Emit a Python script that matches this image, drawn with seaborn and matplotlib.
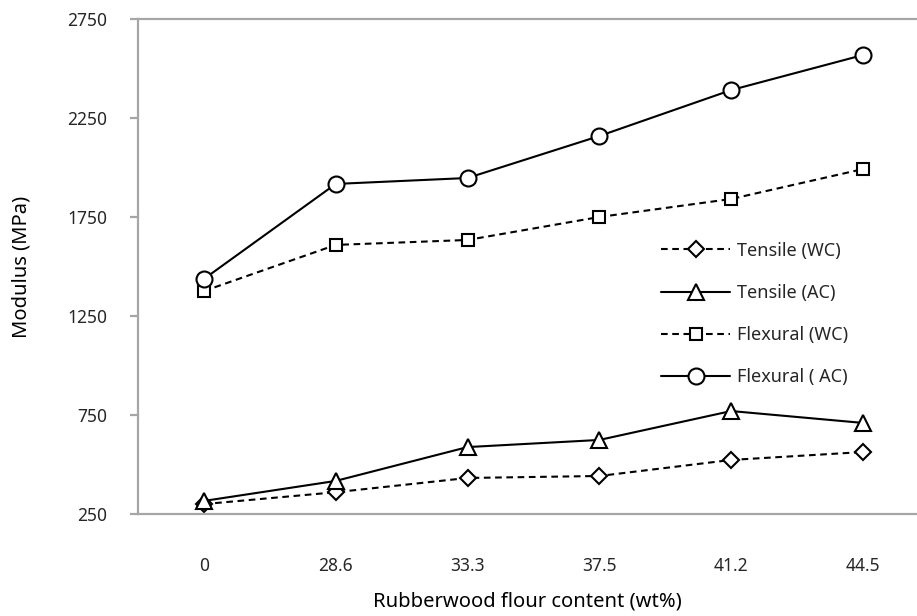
import matplotlib
matplotlib.use("Agg")
import matplotlib.pyplot as plt
import seaborn as sns
import pandas as pd

# Rubberwood flour content (wt%) used as categorical x positions
content = ["0", "28.6", "33.3", "37.5", "41.2", "44.5"]

# Modulus values (MPa)
tensile_wc = [300, 360, 432, 442, 523, 563]
tensile_ac = [316, 417, 588, 624, 770, 710]
flexural_wc = [1376, 1609, 1634, 1750, 1841, 1992]
flexural_ac = [1437, 1917, 1947, 2159, 2391, 2568]

series_names = ["Tensile (WC)", "Tensile (AC)", "Flexural (WC)", "Flexural ( AC)"]
series_values = [tensile_wc, tensile_ac, flexural_wc, flexural_ac]

sns.set_theme(style="white")
plt.rcParams["font.family"] = ["Noto Sans", "DejaVu Sans"]

fig = plt.figure(figsize=(9.17, 6.16), dpi=100)
ax = fig.add_axes([138 / 917, 1 - 514 / 616, 1 - 138 / 917, (514 - 19) / 616])

styles = {
    "Tensile (WC)": dict(marker="D", ms=8.0, ls=(0, (3.2, 2.2))),
    "Tensile (AC)": dict(marker="^", ms=11.0, ls="-"),
    "Flexural (WC)": dict(marker="s", ms=8.5, ls=(0, (3.2, 2.2))),
    "Flexural ( AC)": dict(marker="o", ms=11.5, ls="-"),
}

for name, vals in zip(series_names, series_values):
    st = styles[name]
    df = pd.DataFrame({"content": content, "modulus": vals})
    sns.lineplot(
        data=df, x="content", y="modulus", ax=ax, sort=False,
        color="black", linewidth=1.5, linestyle=st["ls"],
        marker=st["marker"], markersize=st["ms"],
        markerfacecolor="white", markeredgecolor="black", markeredgewidth=1.5,
        label=name,
    )

ax.set_ylim(250, 2750)
ax.set_yticks([250, 750, 1250, 1750, 2250, 2750])
ax.set_xlim(-0.5, 5.41)

spine_col = "#a6a6a6"
for side in ["left", "bottom", "top"]:
    ax.spines[side].set_visible(True)
    ax.spines[side].set_color(spine_col)
    ax.spines[side].set_linewidth(1.6)
ax.spines["right"].set_visible(False)

ax.tick_params(axis="y", direction="out", length=6, width=1.6, color=spine_col,
               pad=16, labelsize=12.5, labelcolor="#262626", left=True)
ax.tick_params(axis="x", length=0, pad=31, labelsize=12.5, labelcolor="#262626")

ax.set_xlabel("Rubberwood flour content (wt%)", fontsize=14.5, color="black", labelpad=12)
ax.set_ylabel("Modulus (MPa)", fontsize=14.5, color="black", labelpad=26)

leg = ax.legend(loc="upper left", bbox_to_anchor=(0.651, 0.583), frameon=False,
                fontsize=13, handlelength=3.8, handletextpad=0.4, labelspacing=1.34,
                labelcolor="#262626")

fig.savefig("out.png", dpi=100)
